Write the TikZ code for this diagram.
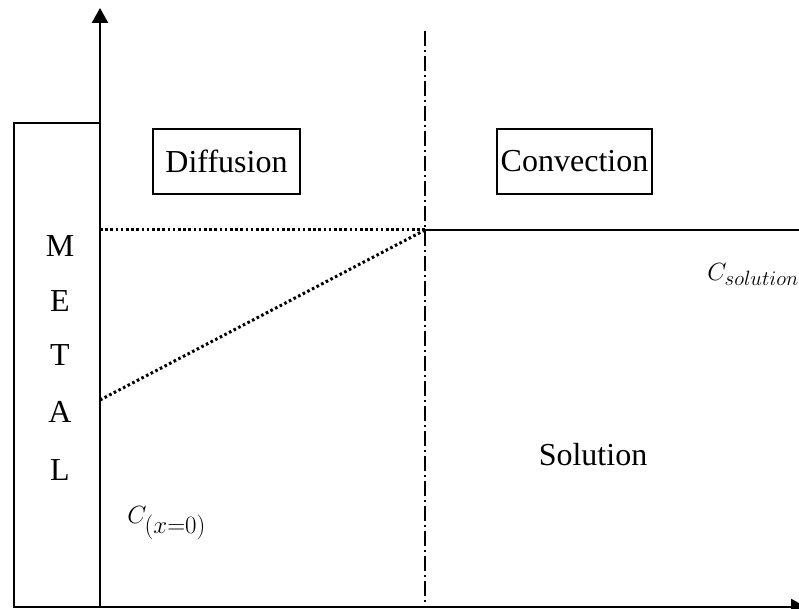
\documentclass[tikz,border=0pt]{standalone}
\usepackage{fontspec}
\setmainfont{Liberation Serif}
\usetikzlibrary{arrows.meta}
\begin{document}
\begin{tikzpicture}[x=1pt,y=-1pt,
  line width=2.5pt,
  lbl/.style={inner sep=0pt,anchor=base,font=\fontsize{32}{38}\selectfont},
  mlbl/.style={inner sep=0pt,anchor=base west,font=\fontsize{35}{40}\selectfont},
  boxlbl/.style={draw,line width=2.2pt,minimum width=147pt,minimum height=65pt,inner sep=0pt,font=\fontsize{32}{38}\selectfont},
  dashdot/.style={line width=2pt,dash pattern=on 15pt off 4pt on 2pt off 4pt},
  dotline/.style={line width=3pt,dash pattern=on 2.6pt off 2.6pt},
  axarrow/.style={-{Triangle[length=15pt,width=16pt]}}]
\useasboundingbox (0,0) rectangle (799,609);
\coordinate (O) at (100,607);
\coordinate (ytop) at (100,8);
\coordinate (xend) at (806,607);
\coordinate (mtl) at (14,123);
\coordinate (mtr) at (100,123);
\coordinate (mbl) at (14,607);
\coordinate (dtop) at (425,31);
\coordinate (dbot) at (425,607);
\coordinate (cmeet) at (425,230);
\coordinate (cleft) at (100,230);
\coordinate (cright) at (799,230);
\coordinate (cx0) at (100,400);
% metal block
\draw (mtr) -- (mtl) -- (mbl) -- (O);
% axes
\draw[axarrow] (O) -- (ytop);
\draw[axarrow] (O) -- (xend);
% boundary
\draw[dashdot] (dtop) -- (dbot);
% concentration lines
\draw[dotline] (cleft) -- (cmeet);
\draw[dotline] (cx0) -- (cmeet);
\draw (cmeet) -- (cright);
% boxes
\node[boxlbl] (diff) at (226.5,161.5) {Diffusion};
\node[boxlbl,minimum width=155pt] (conv) at (574.5,161.5) {Convection};
% METAL letters
\node[lbl] (lM) at (60,257) {M};
\node[lbl] (lE) at (60,311) {E};
\node[lbl] (lT) at (60,365) {T};
\node[lbl] (lA) at (60,422) {A};
\node[lbl] (lL) at (60,480) {L};
% labels
\node[lbl] (sol) at (593,465) {Solution};
\node[mlbl,font=\fontsize{32.5}{38}\selectfont] (cs) at (706,280) {$C_{solution}$};
\node[mlbl] (c0) at (126,523) {$C_{(x=0)}$};
\end{tikzpicture}
\end{document}
